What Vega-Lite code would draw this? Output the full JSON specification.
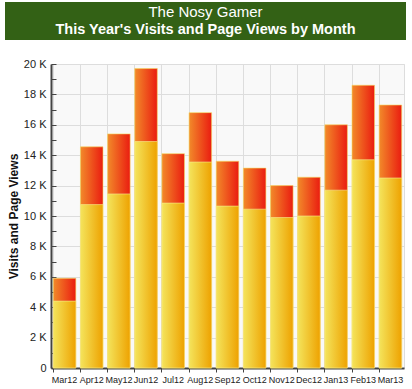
{
  "$schema": "https://vega.github.io/schema/vega-lite/v6.json",
  "padding": {"left": 5, "top": 2, "right": 5, "bottom": 2},
  "background": "white",
  "spacing": 17,
  "config": {"font": "Liberation Sans", "axis": {"labelOverlap": false}, "axisY": {"labelOverlap": false}},
  "vconcat": [
    {
      "width": 401,
      "height": 38,
      "view": {"fill": "#336115", "stroke": null},
      "data": {"values": [
        {"line": 1, "text": "The Nosy Gamer"},
        {"line": 2, "text": "This Year's Visits and Page Views by Month"}
      ]},
      "encoding": {
        "y": {"field": "line", "type": "ordinal", "axis": null, "scale": {"padding": 0.55}},
        "text": {"field": "text"}
      },
      "layer": [
        {
          "transform": [{"filter": "datum.line == 1"}],
          "mark": {"type": "text", "color": "white", "baseline": "middle", "fontSize": 15, "fontWeight": "normal"}
        },
        {
          "transform": [{"filter": "datum.line == 2"}],
          "mark": {"type": "text", "color": "white", "baseline": "middle", "fontSize": 14.5, "fontWeight": "bold"}
        }
      ]
    },
    {
      "spacing": 0,
      "hconcat": [
        {
          "width": 1,
          "height": 304,
          "view": {"stroke": null},
          "data": {"values": []},
          "mark": "rect",
          "encoding": {}
        },
        {
          "width": 353,
          "height": 304,
          "view": {"fill": "#f9f9f9", "stroke": "#dddddd"},
          "data": {"values": [
            {"month": "Mar12", "visits": 4400, "pageviews": 5900},
            {"month": "Apr12", "visits": 10750, "pageviews": 14550},
            {"month": "May12", "visits": 11450, "pageviews": 15400},
            {"month": "Jun12", "visits": 14900, "pageviews": 19700},
            {"month": "Jul12", "visits": 10850, "pageviews": 14100},
            {"month": "Aug12", "visits": 13550, "pageviews": 16800},
            {"month": "Sep12", "visits": 10650, "pageviews": 13600},
            {"month": "Oct12", "visits": 10450, "pageviews": 13150},
            {"month": "Nov12", "visits": 9900, "pageviews": 12000},
            {"month": "Dec12", "visits": 10000, "pageviews": 12550},
            {"month": "Jan13", "visits": 11700, "pageviews": 16000},
            {"month": "Feb13", "visits": 13700, "pageviews": 18600},
            {"month": "Mar13", "visits": 12500, "pageviews": 17300}
          ]},
          "transform": [{"fold": ["pageviews", "visits"], "as": ["series", "count"]}],
          "encoding": {
            "x": {
              "field": "month", "type": "nominal", "sort": null,
              "scale": {"paddingInner": 0.17, "paddingOuter": 0.085},
              "axis": {
                "title": null, "labelAngle": 0, "bandPosition": 0, "grid": true,
                "gridColor": "#dddddd", "domainColor": "#444444", "domainWidth": 2,
                "tickColor": "#444444", "tickSize": 4, "labelFontSize": 9, "labelColor": "#222222",
                "labelPadding": 3, "labelOverlap": false
              }
            },
            "y": {
              "field": "count", "type": "quantitative", "stack": null,
              "scale": {"domain": [0, 20000], "nice": false},
              "axis": {
                "title": "Visits and Page Views", "titleFontSize": 12, "titleFontWeight": "bold",
                "titleColor": "#111111", "titlePadding": 3,
                "values": [0,1000,2000,3000,4000,5000,6000,7000,8000,9000,10000,11000,12000,13000,14000,15000,16000,17000,18000,19000,20000],
                "labelExpr": "datum.value == 0 ? '0' : (datum.value % 2000 === 0 ? format(datum.value / 1000, 'd') + ' K' : '')",
                "labelFontSize": 11, "labelColor": "#222222", "labelOverlap": false,
                "grid": true, "gridColor": "#dddddd",
                "gridOpacity": {"condition": {"test": "datum.value % 2000 === 0", "value": 1}, "value": 0},
                "domainColor": "#444444", "domainWidth": 2,
                "tickColor": "#444444", "tickSize": -5, "labelPadding": 10
              }
            }
          },
          "layer": [
            {
              "transform": [{"filter": "datum.series == 'pageviews'"}],
              "mark": {"type": "bar", "stroke": "#f5d860", "strokeWidth": 0.6,
                "color": {"gradient": "linear", "x1": 0, "x2": 1, "y1": 0, "y2": 0,
                  "stops": [{"offset": 0, "color": "#f28a2a"}, {"offset": 1, "color": "#ea1c10"}]}}
            },
            {
              "transform": [{"filter": "datum.series == 'visits'"}],
              "mark": {"type": "bar", "stroke": "#f8ee90", "strokeWidth": 0.6,
                "color": {"gradient": "linear", "x1": 0, "x2": 1, "y1": 0, "y2": 0,
                  "stops": [{"offset": 0, "color": "#f4e45c"}, {"offset": 1, "color": "#eea200"}]}}
            }
          ]
        }
      ]
    }
  ]
}
